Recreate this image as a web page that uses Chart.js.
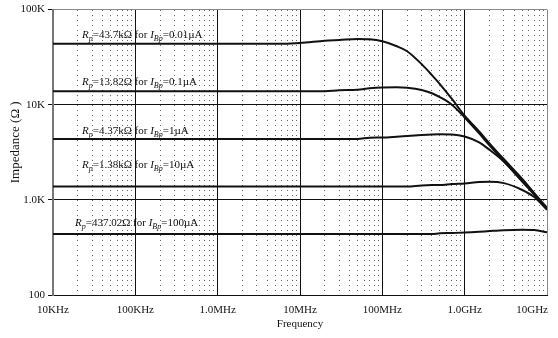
<!DOCTYPE html>
<html>
<head>
<meta charset="utf-8">
<script src="https://cdn.jsdelivr.net/npm/chart.js@4.4.0/dist/chart.umd.min.js"></script>
<style>
  html, body { margin: 0; padding: 0; background: #fff; }
  canvas { display: block; }
</style>
</head>
<body>
<canvas id="grafica" width="558" height="338"></canvas>
<script>
// --- Datos --------------------------------------------------------------------
// Frecuencias de lectura (Hz), compartidas por las cinco curvas
const frecuencias = [1e4, 1e6, 5e6, 1e7, 2e7, 3e7, 5e7, 7e7, 1e8, 1.5e8, 2e8, 3e8, 4e8, 5e8, 7e8, 1e9, 1.5e9, 2e9, 3e9, 5e9, 7e9, 1e10];

// Impedancia (Ω) de cada curva
const zRp43k = [43700, 43700, 43700, 44600, 47000, 47900, 49100, 48700, 46400, 41200, 36500, 26700, 20500, 16500, 11500, 7670, 5230, 3930, 2670, 1660, 1180, 826];
const zRp13k = [13820, 13820, 13820, 13820, 13900, 14200, 14400, 14900, 15200, 15300, 15100, 14300, 13200, 12000, 10000, 7330, 4990, 3740, 2550, 1580, 1150, 806];
const zRp4k  = [4370, 4370, 4370, 4370, 4370, 4370, 4370, 4510, 4530, 4620, 4700, 4810, 4870, 4890, 4870, 4640, 4020, 3360, 2520, 1560, 1140, 800];
const zRp1k  = [1380, 1380, 1380, 1380, 1380, 1380, 1380, 1380, 1380, 1380, 1380, 1420, 1430, 1430, 1470, 1490, 1540, 1550, 1500, 1270, 1070, 785];
const zRp437 = [437, 437, 437, 437, 437, 437, 437, 437, 437, 437, 437, 437, 437, 446, 448, 453, 462, 470, 480, 485, 481, 456];

const series = [zRp43k, zRp13k, zRp4k, zRp1k, zRp437];

// Rótulos de cada curva
const valoresRp = ['43.7kΩ', '13.82Ω', '4.37kΩ', '1.38kΩ', '437.02Ω'];
const corrientesBp = ['0.01µA', '0.1µA', '1µA', '10µA', '100µA'];

// Ejes
const marcasX = [1e4, 1e5, 1e6, 1e7, 1e8, 1e9, 1e10];
const etiquetasX = ['10KHz', '100KHz', '1.0MHz', '10MHz', '100MHz', '1.0GHz', '10GHz'];
const marcasY = [1e2, 1e3, 1e4, 1e5];
const etiquetasY = ['100', '1.0K', '10K', '100K'];
const multiplosMenores = [2, 3, 4, 5, 6, 7, 8, 9];

// --- Ubicación de los rótulos (solo maquetación) ------------------------------
const rotuloFrec = [22500, 22500, 22500, 22500, 18500];
const rotuloAlto = [6, 6, 5, 19, 8];   // px sobre la curva (línea base)

const SERIF = '"Liberation Serif", "Times New Roman", serif';
const TINTA = '#111';

Chart.defaults.font.family = SERIF;
Chart.defaults.font.size = 11;
Chart.defaults.color = TINTA;

// Escribe un trozo de texto y devuelve la x siguiente
function escribir(ctx, texto, x, y, fuente) {
  ctx.font = fuente;
  ctx.fillText(texto, x, y);
  return x + ctx.measureText(texto).width;
}

const textosPlugin = {
  id: 'textos',
  afterDraw(chart) {
    const { ctx, chartArea, scales: { x, y } } = chart;
    ctx.save();
    ctx.fillStyle = TINTA;

    // Etiquetas del eje X (la última no se sale del lienzo)
    ctx.font = '11px ' + SERIF;
    ctx.textAlign = 'left';
    ctx.textBaseline = 'middle';
    marcasX.forEach((v, i) => {
      const w = ctx.measureText(etiquetasX[i]).width;
      const px = Math.min(x.getPixelForValue(v) - w / 2, chart.width - 10 - w);
      ctx.fillText(etiquetasX[i], px, x.top + 15);
    });

    ctx.textAlign = 'center';
    ctx.fillText('Frequency', (chartArea.left + chartArea.right) / 2, x.top + 29);

    // Título del eje Y
    ctx.save();
    ctx.translate(16, (chartArea.top + chartArea.bottom) / 2 - 10);
    ctx.rotate(-Math.PI / 2);
    ctx.font = '13px ' + SERIF;
    ctx.fillText('Impedance (Ω )', 0, 0);
    ctx.restore();

    // Rótulos R_p ... I_Bp
    ctx.textAlign = 'left';
    ctx.textBaseline = 'alphabetic';
    series.forEach((serie, i) => {
      const base = y.getPixelForValue(serie[0]) - rotuloAlto[i];
      let px = x.getPixelForValue(rotuloFrec[i]);
      px = escribir(ctx, 'R', px, base, 'italic 11px ' + SERIF);
      px = escribir(ctx, 'p', px, base + 3, 'italic 8px ' + SERIF);
      px = escribir(ctx, '=' + valoresRp[i] + ' for ', px, base, '11px ' + SERIF);
      px = escribir(ctx, 'I', px, base, 'italic 11px ' + SERIF);
      px = escribir(ctx, 'Bp', px, base + 3, 'italic 8px ' + SERIF);
      escribir(ctx, '=' + corrientesBp[i], px, base, '11px ' + SERIF);
    });
    ctx.restore();
  }
};

new Chart(document.querySelector('#grafica'), {
  type: 'line',
  data: {
    datasets: series.map((serie) => ({
      data: frecuencias.map((f, i) => ({ x: f, y: serie[i] })),
      borderColor: TINTA,
      borderWidth: 2,
      pointRadius: 0,
      cubicInterpolationMode: 'monotone',
      fill: false,
    })),
  },
  options: {
    responsive: false,
    animation: false,
    devicePixelRatio: 1,
    layout: { padding: { top: 7, right: 11, left: 0, bottom: 0 } },
    plugins: { legend: { display: false }, tooltip: { enabled: false } },
    scales: {
      x: {
        type: 'logarithmic',
        min: 1e4,
        max: 1e10,
        afterBuildTicks: (s) => { s.ticks = marcasX.map((v) => ({ value: v })); },
        afterFit: (s) => { s.height = 43; },
        ticks: { display: false },
        grid: {
          drawTicks: false,
          lineWidth: 1,
          color: (c) => (c.tick.value === 1e4 ? 'rgba(0,0,0,0)' : c.tick.value === 1e10 ? '#888' : TINTA),
        },
        border: { display: true, color: TINTA, width: 1 },
      },
      xm: {
        type: 'logarithmic',
        position: 'top',
        min: 1e4,
        max: 1e10,
        afterBuildTicks: (s) => {
          s.ticks = marcasX.slice(0, -1).flatMap((d) => multiplosMenores.map((k) => ({ value: k * d })));
        },
        afterFit: (s) => { s.height = 0; },
        ticks: { display: false },
        grid: { drawTicks: false, lineWidth: 1, color: '#666' },
        border: { display: false, dash: [1, 4] },
      },
      y: {
        type: 'logarithmic',
        min: 100,
        max: 1e5,
        afterBuildTicks: (s) => { s.ticks = marcasY.map((v) => ({ value: v })); },
        afterFit: (s) => { s.width = 53; },
        ticks: {
          padding: 3,
          callback: (v, i) => etiquetasY[i],
          font: { size: 11 },
        },
        grid: {
          tickLength: 5,
          tickColor: TINTA,
          lineWidth: 1,
          color: (c) => (c.tick.value === 1e5 ? '#888' : c.tick.value === 100 ? 'rgba(0,0,0,0)' : TINTA),
        },
        border: { display: true, color: '#777', width: 2 },
      },
    },
  },
  plugins: [textosPlugin],
});
</script>
</body>
</html>
